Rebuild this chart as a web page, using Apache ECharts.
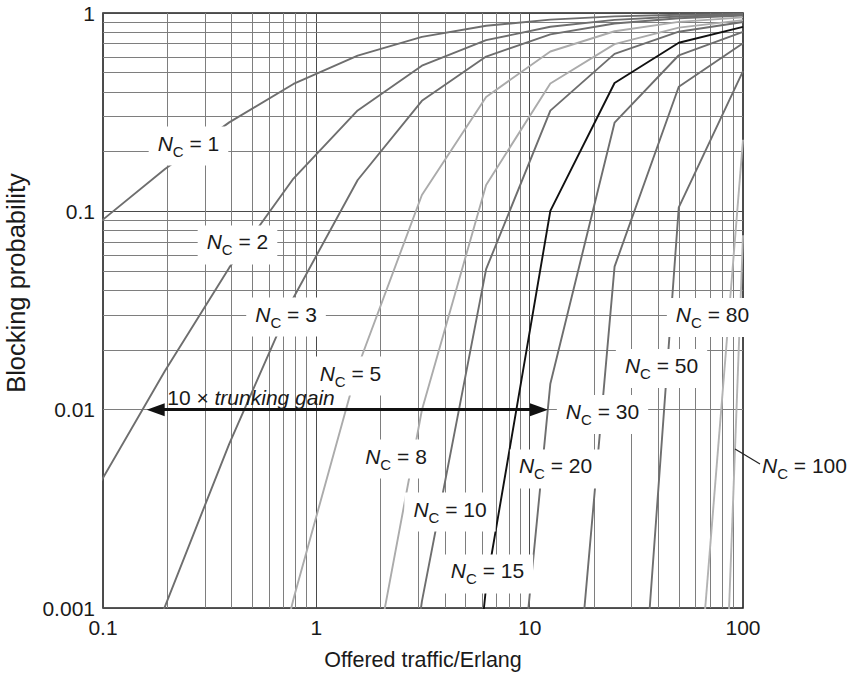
<!DOCTYPE html>
<html><head><meta charset="utf-8">
<script src="https://cdn.jsdelivr.net/npm/echarts@6/dist/echarts.min.js"></script>
<style>html,body{margin:0;padding:0;background:#fff}#c{width:854px;height:675px}</style>
</head><body><div id="c"></div>
<script>
// Offered traffic sample points (Erlang)
const traffic = [0.09765625, 0.1953125, 0.390625, 0.78125, 1.5625, 3.125, 6.25, 12.5, 25, 50, 100];
const channels = [1, 2, 3, 5, 8, 10, 15, 20, 30, 50, 80, 100];
// Blocking probability per number of channels (null = not drawn)
const pN1   = [0.0890, 0.1634, 0.2809, 0.4386, 0.6098, 0.7576, 0.8621, 0.9259, 0.9615, 0.9804, 0.9901];
const pN2   = [0.00433, 0.01571, 0.0520, 0.1463, 0.3227, 0.5421, 0.7293, 0.8527, 0.9232, 0.9608, 0.9802];
const pN3   = [0.000141, 0.00102, 0.00673, 0.0367, 0.1439, 0.3609, 0.6031, 0.7804, 0.8850, 0.9412, 0.9703];
const pN5   = [null, null, 0.0000513, 0.00111, 0.01636, 0.1209, 0.3775, 0.6394, 0.8090, 0.9021, 0.9505];
const pN8   = [null, null, null, 0.00000158, 0.000185, 0.00996, 0.1359, 0.4410, 0.6963, 0.8436, 0.9209];
const pN10  = [null, null, null, null, 0.00000501, 0.00108, 0.0511, 0.3220, 0.6224, 0.8047, 0.9011];
const pN15  = [null, null, null, null, null, 0.000000889, 0.00128, 0.1005, 0.4437, 0.7080, 0.8517];
const pN20  = [null, null, null, null, null, null, 0.00000656, 0.01352, 0.2799, 0.6121, 0.8024];
const pN30  = [null, null, null, null, null, null, null, 0.0000113, 0.0526, 0.4248, 0.7041];
const pN50  = [null, null, null, null, null, null, null, null, 0.0000036, 0.1048, 0.5093];
const pN80  = [null, null, null, null, null, null, null, null, null, 0.0000223, 0.2295];
const pN100 = [null, null, null, null, null, null, null, null, null, 1.6e-10, 0.0757];
const xTicks = [0.1, 1, 10, 100];
const xTickLabels = ['0.1', '1', '10', '100'];
const yTicks = [0.001, 0.01, 0.1, 1];
const yTickLabels = ['0.001', '0.01', '0.1', '1'];
const xMinorGrid = [0.2,0.3,0.4,0.5,0.6,0.7,0.8,0.9, 2,3,4,5,6,7,8,9, 20,30,40,50,60,70,80,90];
const yMinorGrid = [0.002,0.003,0.004,0.005,0.006,0.007,0.008,0.009, 0.02,0.03,0.04,0.05,0.06,0.07,0.08,0.09, 0.2,0.3,0.4,0.5,0.6,0.7,0.8,0.9];
const trunkingText = ['10 × ', 'trunking gain'];

// annotation anchors (data coordinates)
const labelAnchor = {1:[0.2516,0.2135], 2:[0.427,0.06765], 3:[0.721,0.02932], 5:[1.446,0.01478],
  8:[2.363,0.005639], 10:[4.233,0.003048], 15:[6.343,0.001484], 20:[13.22,0.005022],
  30:[21.95,0.009454], 50:[41.5,0.01613], 80:[71.95,0.02915]};
const n100Anchor = [91.75, 0.006333];
const arrowEnds = [[0.1766, 0.01], [11.06, 0.01]];
const trunkingAnchor = [0.494, 0.01150];

const curveData = [pN1, pN2, pN3, pN5, pN8, pN10, pN15, pN20, pN30, pN50, pN80, pN100];
const curveColor = ['#6e6e6e','#6e6e6e','#6e6e6e','#ababab','#ababab','#6e6e6e','#111111','#6e6e6e','#6e6e6e','#6e6e6e','#b3b3b3','#b3b3b3'];

const FONT = "'Liberation Sans', Arial, Helvetica, sans-serif";
const TXT = '#1a1a1a';
const rich = {
  n: {fontFamily: FONT, fontSize: 21, fontStyle: 'italic', color: TXT, padding: [0,0,8,0]},
  c: {fontFamily: FONT, fontSize: 15, color: TXT, padding: [8,0,0,0]},
  t: {fontFamily: FONT, fontSize: 21, color: TXT, padding: [0,0,8,0]}
};
function ncText(n) { return '{n|N}{c|C}{t| = ' + n + '}'; }
function labelFor(v, ticks, labels) {
  for (let i = 0; i < ticks.length; i++) if (Math.abs(Math.log10(v / ticks[i])) < 1e-6) return labels[i];
  return '';
}

const chart = echarts.init(document.getElementById('c'), null, {renderer: 'svg'});

const series = [];
// minor grid lines
series.push({
  type: 'line', data: [], silent: true, z: 1,
  markLine: {
    z: 1, silent: true, animation: false, symbol: ['none', 'none'],
    label: {show: false}, emphasis: {disabled: true},
    lineStyle: {color: '#7e7e7e', width: 1, type: 'solid'},
    data: xMinorGrid.map(v => ({xAxis: v})).concat(yMinorGrid.map(v => ({yAxis: v})))
  }
});
channels.forEach((n, i) => {
  const s = {
    type: 'line', name: 'N' + n, z: 3, silent: true, animation: false,
    symbol: 'none', showSymbol: false,
    data: traffic.map((a, j) => [a, curveData[i][j]]).filter(d => d[1] != null),
    lineStyle: {color: curveColor[i], width: 1.9},
    emphasis: {disabled: true}
  };
  if (labelAnchor[n]) {
    s.markPoint = {
      z: 10, silent: true, animation: false, symbol: 'rect', symbolSize: 1,
      itemStyle: {color: 'rgba(0,0,0,0)'},
      label: {show: true, position: 'inside', formatter: ncText(n), rich: rich,
              backgroundColor: '#fff', padding: [6, 9, 4, 9]},
      data: [{coord: labelAnchor[n]}]
    };
  }
  series.push(s);
});
// trunking gain arrow and text
series.push({
  type: 'line', data: [], silent: true, z: 6,
  markLine: {
    z: 6, silent: true, animation: false, label: {show: false}, emphasis: {disabled: true},
    lineStyle: {color: '#111', width: 3, type: 'solid'},
    data: [[{coord: arrowEnds[0], symbol: 'triangle', symbolSize: [13, 18]},
            {coord: arrowEnds[1], symbol: 'triangle', symbolSize: [13, 18]}]]
  },
  markPoint: {
    z: 11, silent: true, animation: false, symbol: 'rect', symbolSize: 1,
    itemStyle: {color: 'rgba(0,0,0,0)'},
    label: {show: true, position: 'inside', formatter: '{a|' + trunkingText[0] + '}{b|' + trunkingText[1] + '}',
      rich: {a: {fontFamily: FONT, fontSize: 21, color: TXT}, b: {fontFamily: FONT, fontSize: 21, fontStyle: 'italic', color: TXT}}},
    data: [{coord: trunkingAnchor}]
  }
});

const option = {
  animation: false,
  backgroundColor: '#fff',
  textStyle: {fontFamily: FONT},
  grid: {left: 103, right: 111, top: 13, bottom: 67, show: true, borderColor: '#222', borderWidth: 1.6,
         backgroundColor: '#fff', containLabel: false, outerBoundsMode: 'none'},
  xAxis: {
    type: 'log', logBase: 10, min: 0.1, max: 100,
    name: 'Offered traffic/Erlang', nameLocation: 'middle', nameGap: 41,
    nameTextStyle: {fontSize: 21.5, color: TXT, fontFamily: FONT},
    axisLine: {show: false}, axisTick: {show: false},
    axisLabel: {fontSize: 21, color: TXT, margin: 9, showMinLabel: true, showMaxLabel: true,
                formatter: v => labelFor(v, xTicks, xTickLabels)},
    splitLine: {show: true, lineStyle: {color: '#4a4a4a', width: 1}}
  },
  yAxis: {
    type: 'log', logBase: 10, min: 0.001, max: 1,
    axisLine: {show: false}, axisTick: {show: false},
    axisLabel: {fontSize: 21, color: TXT, margin: 8, showMinLabel: true, showMaxLabel: true,
                formatter: v => labelFor(v, yTicks, yTickLabels)},
    splitLine: {show: true, lineStyle: {color: '#4a4a4a', width: 1}}
  },
  graphic: [{
    type: 'text', x: 16, y: 283, rotation: Math.PI / 2, z: 50,
    style: {text: 'Blocking probability', fontSize: 25.5, fontFamily: FONT, fill: TXT,
            textAlign: 'center', textVerticalAlign: 'middle', align: 'center', verticalAlign: 'middle'}
  }],
  series: series
};
chart.setOption(option);

// N_C = 100 label outside the plot with a leader line from its curve
const p = chart.convertToPixel({gridIndex: 0}, n100Anchor);
chart.setOption({graphic: [
  option.graphic[0],
  {type: 'line', z: 50, silent: true, shape: {x1: p[0], y1: p[1], x2: p[0] + 25, y2: p[1] + 15},
   style: {stroke: '#222', lineWidth: 1.2}},
  {type: 'text', z: 50, silent: true, x: p[0] + 27, y: p[1] + 20.5,
   style: {text: ncText(100), rich: rich, fill: TXT,
           textAlign: 'left', textVerticalAlign: 'middle', align: 'left', verticalAlign: 'middle'}}
]});
</script></body></html>
